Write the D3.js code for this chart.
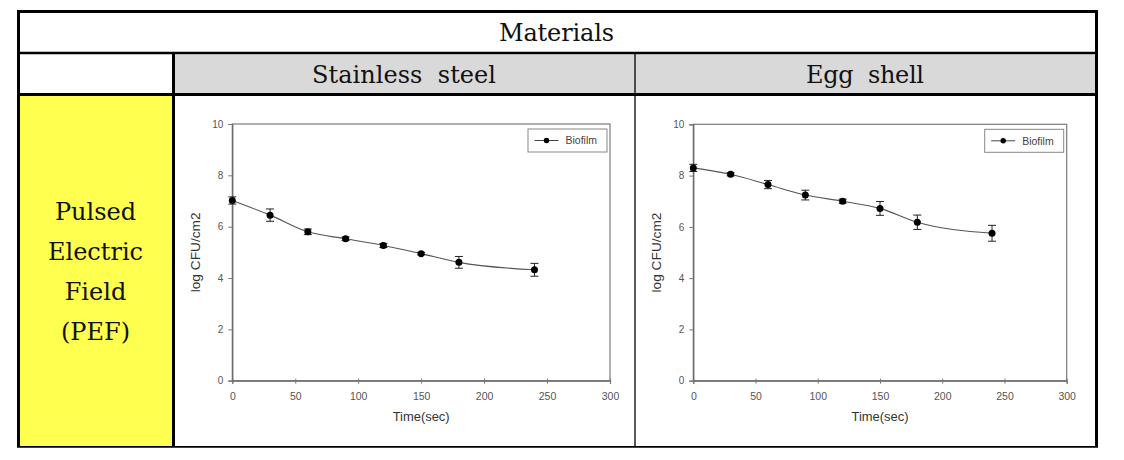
<!DOCTYPE html>
<html>
<head>
<meta charset="utf-8">
<script src="https://cdn.jsdelivr.net/npm/d3@7"></script>
<style>
  html, body { margin: 0; padding: 0; background: #fff; }
  svg { display: block; }
</style>
</head>
<body>
<svg id="chart" width="1124" height="460"></svg>
<script>
// ---- data ----
const times = [0, 30, 60, 90, 120, 150, 180, 240];
const stainlessMean = [7.02, 6.45, 5.80, 5.53, 5.27, 4.95, 4.61, 4.32];
const stainlessErr  = [0.14, 0.24, 0.11, 0.07, 0.08, 0.05, 0.23, 0.25];
const eggMean = [8.30, 8.05, 7.65, 7.24, 7.00, 6.72, 6.18, 5.75];
const eggErr  = [0.14, 0.06, 0.16, 0.19, 0.08, 0.27, 0.28, 0.31];
const xTicks = [0, 50, 100, 150, 200, 250, 300];
const yTicks = [0, 2, 4, 6, 8, 10];
const headerTitle = "Materials";
const materials = ["Stainless steel", "Egg shell"];
const rowLabel = ["Pulsed", "Electric", "Field", "(PEF)"];
const seriesName = "Biofilm";
const xLabel = "Time(sec)";
const yLabel = "log CFU/cm2";

const svg = d3.select("#chart");

// ---- table ----
const T = { left: 18.5, right: 1096.5, top: 11.5, row1: 53, row2: 94.5, bottom: 446.8, col1: 173.5, mid: 635 };
svg.append("rect").attr("x", 175).attr("y", 54.5).attr("width", 1095 - 175).attr("height", 93 - 54.5).attr("fill", "#d9d9d9");
svg.append("rect").attr("x", 20).attr("y", 96).attr("width", 172 - 20).attr("height", 446 - 96).attr("fill", "#ffff4f");

const thick = 3, thin = 1.3;
function line(x1, y1, x2, y2, w) {
  svg.append("line").attr("x1", x1).attr("y1", y1).attr("x2", x2).attr("y2", y2)
    .attr("stroke", "#000").attr("stroke-width", w);
}
line(T.left - 1.5, T.top, T.right + 1.5, T.top, thick);
line(T.left, T.top, T.left, T.bottom, thick);
line(T.right, T.top, T.right, T.bottom, thick);
line(T.left, T.row1, T.right, T.row1, 2.6);
line(T.left, T.row2, T.right, T.row2, thick);
line(T.col1, T.row1, T.col1, T.bottom, thick);
line(T.mid, T.row1, T.mid, T.bottom, thin);
line(T.left - 1.5, T.bottom, T.right + 1.5, T.bottom, 1.7);

const serif = "'DejaVu Serif', serif";
svg.append("text").attr("x", 556.5).attr("y", 41).attr("text-anchor", "middle")
  .attr("font-family", serif).attr("font-size", 24).attr("fill", "#111")
  .attr("textLength", 115).attr("lengthAdjust", "spacing").text(headerTitle);
const matPos = [{ cx: 404, w: 184 }, { cx: 865, w: 118 }];
materials.forEach((m, i) => {
  svg.append("text").attr("x", matPos[i].cx).attr("y", 83).attr("text-anchor", "middle")
    .attr("font-family", serif).attr("font-size", 24).attr("fill", "#111")
    .attr("textLength", matPos[i].w).attr("lengthAdjust", "spacing")
    .style("white-space", "pre").text(m.replace(" ", "  "));
});
rowLabel.forEach((t, i) => {
  svg.append("text").attr("x", 95.5).attr("y", 220 + i * 40).attr("text-anchor", "middle")
    .attr("font-family", serif).attr("font-size", 24).attr("fill", "#111").text(t);
});

// ---- charts ----
const sans = "Arial, 'Liberation Sans', sans-serif";
function drawChart(plot, mean, err) {
  const g = svg.append("g");
  const x = d3.scaleLinear().domain([0, 300]).range([plot.left, plot.right]);
  const y = d3.scaleLinear().domain([0, 10]).range([plot.bottom, plot.top]);

  g.append("rect").attr("x", plot.left).attr("y", plot.top)
    .attr("width", plot.right - plot.left).attr("height", plot.bottom - plot.top)
    .attr("fill", "none").attr("stroke", "#7a7a7a").attr("stroke-width", 1.2);

  const ya = g.append("g").attr("transform", `translate(${plot.left},0)`)
    .call(d3.axisLeft(y).tickValues(yTicks).tickSize(4).tickPadding(5).tickFormat(d3.format("d")));
  ya.select(".domain").attr("stroke", "#666").attr("stroke-width", 1.2);
  ya.selectAll(".tick line").attr("stroke", "#777");
  ya.selectAll(".tick text").attr("font-family", sans).attr("font-size", 10).attr("fill", "#555");

  const xa = g.append("g").attr("transform", `translate(0,${plot.bottom})`)
    .call(d3.axisBottom(x).tickValues(xTicks).tickSize(3).tickPadding(9).tickFormat(d3.format("d")));
  xa.select(".domain").attr("stroke", "#666").attr("stroke-width", 1.2);
  xa.selectAll(".tick line").attr("stroke", "#777").attr("y1", -2);
  xa.selectAll(".tick text").attr("font-family", sans).attr("font-size", 10.5).attr("fill", "#555");

  g.append("text").attr("x", (plot.left + plot.right) / 2).attr("y", 421)
    .attr("text-anchor", "middle").attr("font-family", sans).attr("font-size", 12.5).attr("fill", "#333")
    .attr("textLength", 57).attr("lengthAdjust", "spacingAndGlyphs").text(xLabel);
  g.append("text").attr("transform", `translate(${plot.left - 32.5},${(plot.top + plot.bottom) / 2}) rotate(-90)`)
    .attr("text-anchor", "middle").attr("font-family", sans).attr("font-size", 12.5).attr("fill", "#333")
    .attr("textLength", 80).attr("lengthAdjust", "spacingAndGlyphs").text(yLabel);

  const data = times.map((t, i) => ({ t, m: mean[i], e: err[i] }));

  g.append("path").datum(data)
    .attr("d", d3.line().x(d => x(d.t)).y(d => y(d.m)).curve(d3.curveMonotoneX))
    .attr("fill", "none").attr("stroke", "#555").attr("stroke-width", 1.1);

  const eb = g.append("g").attr("stroke", "#222").attr("stroke-width", 1);
  data.forEach(d => {
    eb.append("line").attr("x1", x(d.t)).attr("x2", x(d.t)).attr("y1", y(d.m - d.e)).attr("y2", y(d.m + d.e));
    eb.append("line").attr("x1", x(d.t) - 4).attr("x2", x(d.t) + 4).attr("y1", y(d.m - d.e)).attr("y2", y(d.m - d.e));
    eb.append("line").attr("x1", x(d.t) - 4).attr("x2", x(d.t) + 4).attr("y1", y(d.m + d.e)).attr("y2", y(d.m + d.e));
  });

  g.selectAll("circle.pt").data(data).enter().append("circle").attr("class", "pt")
    .attr("cx", d => x(d.t)).attr("cy", d => y(d.m)).attr("r", 3.5).attr("fill", "#000");

  const lw = 79, lh = 23;
  const lx = plot.right - 3 - lw, ly = plot.top + 5;
  g.append("rect").attr("x", lx).attr("y", ly).attr("width", lw).attr("height", lh)
    .attr("fill", "#fff").attr("stroke", "#888").attr("stroke-width", 1);
  g.append("line").attr("x1", lx + 6.5).attr("x2", lx + 30.5).attr("y1", ly + 11.5).attr("y2", ly + 11.5)
    .attr("stroke", "#444").attr("stroke-width", 1);
  g.append("circle").attr("cx", lx + 18.5).attr("cy", ly + 11.5).attr("r", 2.7).attr("fill", "#000");
  g.append("text").attr("x", lx + 37.5).attr("y", ly + 15.3).attr("font-family", sans).attr("font-size", 10.5)
    .attr("fill", "#444").text(seriesName);
}

drawChart({ left: 232.3, right: 610, top: 124, bottom: 380.7 }, stainlessMean, stainlessErr);
drawChart({ left: 693.3, right: 1066.7, top: 124.3, bottom: 380.7 }, eggMean, eggErr);
</script>
</body>
</html>
